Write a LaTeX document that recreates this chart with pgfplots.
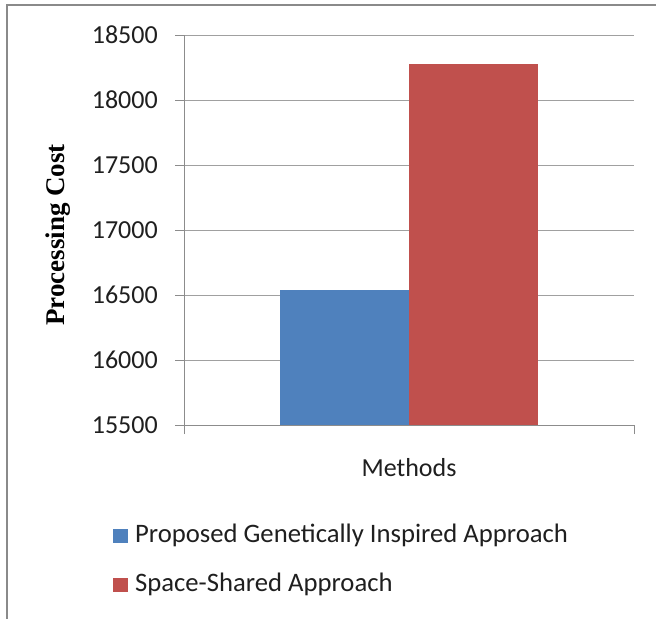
\documentclass[border=0pt]{standalone}
\usepackage{fontspec}
\setmainfont{Carlito}
\newfontfamily\timesfont{Liberation Serif}
\usepackage{pgfplots}
\pgfplotsset{compat=1.18}
\definecolor{barblue}{HTML}{4F81BD}
\definecolor{barred}{HTML}{C0504D}
\definecolor{gridgrey}{HTML}{A0A0A0}
\definecolor{axisgrey}{HTML}{8C8C8C}
\definecolor{framegrey}{HTML}{8A8A8A}
\begin{document}
\begin{tikzpicture}
\useasboundingbox (0,0) rectangle (492pt,-463.5pt);
\draw[line width=1.5pt, framegrey] (5.5pt,-480pt) -- (5.5pt,-3.9pt) -- (510pt,-3.9pt);
\begin{axis}[
  at={(138pt,-318.75pt)}, anchor=south west,
  scale only axis, width=337.5pt, height=292.5pt,
  ybar=0pt, bar width=96.75pt,
  xmin=-1, xmax=1, ymin=15500, ymax=18500,
  xtick={-1,1}, xticklabels={},
  ytick={15500,16000,16500,17000,17500,18000,18500},
  scaled y ticks=false,
  axis x line*=bottom, axis y line*=left,
  ymajorgrids, grid style={gridgrey, line width=0.75pt},
  axis line style={axisgrey, line width=0.75pt},
  tick style={axisgrey, line width=0.75pt},
  tick align=outside, major tick length=6.75pt,
  /pgf/number format/assume math mode=true,
  /pgf/number format/1000 sep={},
  /pgf/number format/fixed,
  yticklabel style={font=\fontsize{19.5}{23}\selectfont, inner sep=0pt, xshift=-12.75pt, text=black!88},
  xlabel={Methods},
  xlabel style={at={(axis description cs:0.5,-0.1333)}, anchor=base, font=\fontsize{19.5}{23}\selectfont, inner sep=0pt, text=black!88},
  ylabel={Processing Cost},
  ylabel style={at={(axis description cs:-0.2656,0.487)}, anchor=base, rotate=0, font=\timesfont\bfseries\fontsize{20.25}{24}\selectfont, inner sep=0pt},
  legend style={at={(axis description cs:-0.158,-0.2546)}, anchor=north west, draw=none, fill=none, inner sep=0pt, outer sep=0pt,
    font=\fontsize{20}{23}\selectfont, row sep=18.75pt, text=black!88,
    nodes={inner sep=0pt, text height=14pt, text depth=4pt}, cells={anchor=west}},
  legend image code/.code={\fill[#1] (0pt,-5pt) rectangle (11.25pt,5.8pt); \path (16.7pt,0pt);},
]
\addplot[fill=barblue, draw=none] coordinates {(0,16540)};
\addplot[fill=barred, draw=none] coordinates {(0,18275)};
\legend{Proposed Genetically Inspired Approach, Space-Shared Approach}
\end{axis}
\end{tikzpicture}
\end{document}
